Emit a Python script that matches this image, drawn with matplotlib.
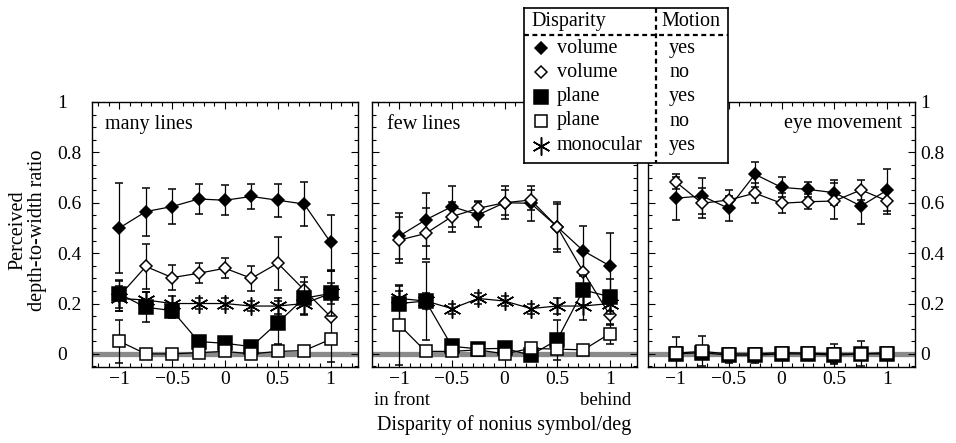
import matplotlib
matplotlib.use('Agg')
import matplotlib.pyplot as plt
from matplotlib.ticker import FixedLocator, FixedFormatter, MultipleLocator

plt.rcParams['font.family'] = ['Liberation Serif', 'DejaVu Serif']
plt.rcParams['font.size'] = 14

# ---------------- data ----------------
disparity = [-1, -0.75, -0.5, -0.25, 0, 0.25, 0.5, 0.75, 1]
x_ticks = [-1, -0.5, 0, 0.5, 1]
x_tick_labels = ['\u22121', '\u22120.5', '0', '0.5', '1']
y_ticks = [0, 0.2, 0.4, 0.6, 0.8, 1]
y_tick_labels = ['0', '0.2', '0.4', '0.6', '0.8', '1']
panel_titles = ['many lines', 'few lines', 'eye movement']

legend_disparity = ['volume', 'volume', 'plane', 'plane', 'monocular']
legend_motion = ['yes', 'no', 'yes', 'no', 'yes']

# panel 1: many lines
many_vol_yes = [0.50, 0.565, 0.585, 0.615, 0.61, 0.625, 0.61, 0.595, 0.443]
many_vol_yes_err = [0.18, 0.095, 0.07, 0.06, 0.06, 0.05, 0.065, 0.087, 0.11]
many_vol_no = [0.23, 0.347, 0.303, 0.32, 0.34, 0.30, 0.36, 0.254, 0.148]
many_vol_no_err = [0.06, 0.09, 0.05, 0.04, 0.04, 0.05, 0.105, 0.05, 0.18]
many_pl_yes = [0.238, 0.185, 0.172, 0.049, 0.042, 0.029, 0.124, 0.221, 0.24]
many_pl_yes_err = [0.055, 0.06, 0.03, 0.02, 0.02, 0.02, 0.085, 0.065, 0.09]
many_pl_no = [0.05, 0.0, 0.0, 0.005, 0.01, 0.0, 0.01, 0.013, 0.058]
many_pl_no_err = [0.085, 0.01, 0.01, 0.01, 0.01, 0.01, 0.01, 0.01, 0.02]
many_mono = [0.22, 0.214, 0.20, 0.20, 0.20, 0.19, 0.19, 0.20, 0.24]
many_mono_err = [0.05, 0.03, 0.03, 0.02, 0.02, 0.02, 0.03, 0.04, 0.04]

# panel 2: few lines
few_vol_yes = [0.468, 0.532, 0.585, 0.552, 0.60, 0.598, 0.505, 0.409, 0.35]
few_vol_yes_err = [0.09, 0.105, 0.083, 0.05, 0.065, 0.07, 0.1, 0.1, 0.13]
few_vol_no = [0.452, 0.478, 0.545, 0.578, 0.60, 0.611, 0.505, 0.325, 0.155]
few_vol_no_err = [0.09, 0.1, 0.06, 0.03, 0.05, 0.04, 0.09, 0.09, 0.04]
few_pl_yes = [0.20, 0.21, 0.03, 0.02, 0.022, -0.005, 0.055, 0.254, 0.227]
few_pl_yes_err = [0.07, 0.155, 0.02, 0.02, 0.02, 0.02, 0.08, 0.06, 0.07]
few_pl_no = [0.115, 0.01, 0.01, 0.016, 0.0, 0.022, 0.019, 0.016, 0.08]
few_pl_no_err = [0.16, 0.01, 0.01, 0.01, 0.01, 0.01, 0.01, 0.01, 0.04]
few_mono = [0.22, 0.21, 0.18, 0.22, 0.21, 0.18, 0.19, 0.19, 0.20]
few_mono_err = [0.03, 0.03, 0.02, 0.02, 0.02, 0.02, 0.03, 0.055, 0.03]

# panel 3: eye movement
eye_vol_yes = [0.618, 0.627, 0.578, 0.713, 0.661, 0.653, 0.64, 0.587, 0.651]
eye_vol_yes_err = [0.085, 0.07, 0.05, 0.05, 0.04, 0.03, 0.05, 0.07, 0.085]
eye_vol_no = [0.684, 0.598, 0.611, 0.638, 0.598, 0.604, 0.607, 0.651, 0.607]
eye_vol_no_err = [0.03, 0.06, 0.04, 0.04, 0.04, 0.03, 0.07, 0.04, 0.05]
eye_pl_yes = [0.0, 0.005, -0.005, -0.005, 0.0, 0.0, -0.005, 0.0, 0.0]
eye_pl_yes_err = [0.01, 0.01, 0.03, 0.03, 0.01, 0.01, 0.03, 0.01, 0.01]
eye_pl_no = [0.003, 0.01, 0.0, 0.0, 0.005, 0.003, 0.0, 0.0, 0.005]
eye_pl_no_err = [0.065, 0.06, 0.01, 0.01, 0.01, 0.01, 0.04, 0.05, 0.01]

# ---------------- styles ----------------
styles = {
    'vol_yes': dict(marker='D', ms=6.6, mfc='black', zorder=3),
    'vol_no': dict(marker='D', ms=6.6, mfc='white', zorder=4),
    'mono': dict(marker=(6, 2, 0), ms=13, mfc='black', zorder=5),
    'pl_yes': dict(marker='s', ms=9.5, mfc='black', zorder=6),
    'pl_no': dict(marker='s', ms=9.0, mfc='white', zorder=7),
}
legend_keys = ['vol_yes', 'vol_no', 'pl_yes', 'pl_no', 'mono']

panels = [
    [('vol_yes', many_vol_yes, many_vol_yes_err), ('vol_no', many_vol_no, many_vol_no_err),
     ('mono', many_mono, many_mono_err), ('pl_yes', many_pl_yes, many_pl_yes_err),
     ('pl_no', many_pl_no, many_pl_no_err)],
    [('vol_yes', few_vol_yes, few_vol_yes_err), ('vol_no', few_vol_no, few_vol_no_err),
     ('mono', few_mono, few_mono_err), ('pl_yes', few_pl_yes, few_pl_yes_err),
     ('pl_no', few_pl_no, few_pl_no_err)],
    [('vol_yes', eye_vol_yes, eye_vol_yes_err), ('vol_no', eye_vol_no, eye_vol_no_err),
     ('pl_yes', eye_pl_yes, eye_pl_yes_err), ('pl_no', eye_pl_no, eye_pl_no_err)],
]

W, H = 956, 443
fig = plt.figure(figsize=(W / 100, H / 100), dpi=100)

def fx(px):
    return px / W

def fy(py):
    return 1 - py / H

ax_lefts = [92, 372, 648]
ax_rights = [358, 637, 915]
ax_top, ax_bot = 102, 367

axes = []
for i in range(3):
    ax = fig.add_axes([fx(ax_lefts[i]), fy(ax_bot), fx(ax_rights[i] - ax_lefts[i]),
                       (ax_bot - ax_top) / H])
    axes.append(ax)
    ax.set_xlim(-1.26, 1.26)
    ax.set_ylim(-0.052, 1.0)
    ax.axhline(0, color='#8a8a8a', lw=3.8, zorder=1)
    for key, y, err in panels[i]:
        st = styles[key]
        ax.errorbar(disparity, y, yerr=err, color='black', lw=0.9,
                    marker=st['marker'], ms=st['ms'], mfc=st['mfc'], mec='black',
                    mew=1.1, capsize=3.2, capthick=1.0, elinewidth=0.9,
                    zorder=st['zorder'])
    ax.xaxis.set_major_locator(FixedLocator(x_ticks))
    ax.xaxis.set_major_formatter(FixedFormatter(x_tick_labels))
    ax.xaxis.set_minor_locator(MultipleLocator(0.1))
    ax.yaxis.set_major_locator(FixedLocator(y_ticks))
    ax.yaxis.set_major_formatter(FixedFormatter(y_tick_labels))
    ax.yaxis.set_minor_locator(MultipleLocator(0.05))
    ax.tick_params(which='both', direction='in', top=True, right=True,
                   width=0.8, labelsize=14)
    ax.tick_params(which='major', length=5)
    ax.tick_params(which='minor', length=3)
    ax.tick_params(axis='x', pad=2.8)
    if i == 0:
        ax.tick_params(axis='y', labelleft=True, labelright=False, pad=25)
        for lbl in ax.get_yticklabels():
            lbl.set_horizontalalignment('left')
    elif i == 1:
        ax.tick_params(axis='y', labelleft=False, labelright=False)
    else:
        ax.tick_params(axis='y', labelleft=False, labelright=True, pad=3.8)
    for sp in ax.spines.values():
        sp.set_linewidth(1.0)

axes[0].text(0.05, 0.915, panel_titles[0], transform=axes[0].transAxes,
             ha='left', va='center', fontsize=14.5)
axes[1].text(0.055, 0.915, panel_titles[1], transform=axes[1].transAxes,
             ha='left', va='center', fontsize=14.5)
axes[2].text(0.95, 0.92, panel_titles[2], transform=axes[2].transAxes,
             ha='right', va='center', fontsize=14.5)

# x annotations
fig.text(fx(402), fy(405), 'in front', ha='center', va='baseline', fontsize=13.5)
fig.text(fx(606), fy(405), 'behind', ha='center', va='baseline', fontsize=13.5)
fig.text(fx(504), fy(430), 'Disparity of nonius symbol/deg', ha='center', va='baseline',
         fontsize=14.5)
fig.text(fx(28), fy(230), 'Perceived\ndepth-to-width ratio', ha='center', va='center',
         rotation=90, multialignment='center', fontsize=14.5, linespacing=1.05)

# legend table
lx0, lx1, ly0, ly1 = 524.3, 727.7, 8.3, 162.7
lax = fig.add_axes([fx(lx0), fy(ly1), fx(lx1 - lx0), (ly1 - ly0) / H], zorder=10)
lax.set_xlim(0, lx1 - lx0)
lax.set_ylim(ly1 - ly0, 0)
lax.set_xticks([])
lax.set_yticks([])
lax.set_facecolor('white')
for sp in lax.spines.values():
    sp.set_linewidth(1.2)
lax.text(7.4, 13.4, 'Disparity', ha='left', va='center', fontsize=14.5)
lax.text(137.0, 13.4, 'Motion', ha='left', va='center', fontsize=14.5)
lax.plot([0, lx1 - lx0], [26.7, 26.7], color='black', lw=1.6, dashes=(2.2, 1.6))
lax.plot([131.4, 131.4], [0, ly1 - ly0], color='black', lw=1.6, dashes=(2.2, 1.6))
row_y = [40, 64, 88.4, 112.7, 137.4]
for k, key in enumerate(legend_keys):
    st = styles[key]
    lax.plot([16.4], [row_y[k]], marker=st['marker'], ms=st['ms'], mfc=st['mfc'],
             mec='black', mew=1.1, color='black', ls='none')
    lax.text(32.4, row_y[k], legend_disparity[k], ha='left', va='center', fontsize=14.5)
    lax.text(144.7, row_y[k], legend_motion[k], ha='left', va='center', fontsize=14.5)

fig.savefig('out.png', dpi=100)
